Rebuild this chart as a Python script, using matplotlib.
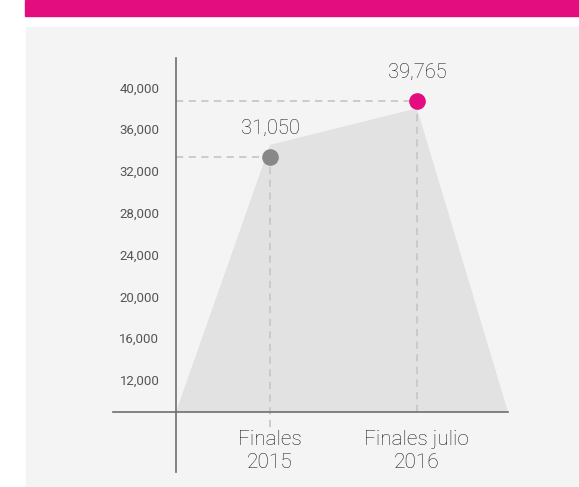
import matplotlib.pyplot as plt
import matplotlib.patches as mpatches

plt.rcParams['font.family'] = ['Roboto', 'Liberation Sans', 'DejaVu Sans']
plt.rcParams['font.weight'] = 'light'

pink = '#e30d7f'
grey_dot = '#888888'
panel_color = '#f4f4f4'
area_color = '#e2e2e2'
guide_color = '#c8c8c8'
axis_color = '#6e6e6e'
text_color = '#1e1e1e'

# data (chart is drawn "not to scale", positions)
categories = ['Finales\n2015', 'Finales julio\n2016']
cat_x = [1, 2]
dot_values = [33340, 38700]
value_labels = ['31,050', '39,765']
dot_colors = [grey_dot, pink]
guide_bottom = [7500, 8940]

area_x = [0.36, 1, 2, 2.62]
area_y = [8940, 34500, 38000, 8940]
baseline = 8940

yticks = [12000, 16000, 20000, 24000, 28000, 32000, 36000, 40000]
ytick_labels = ['12,000', '16,000', '20,000', '24,000', '28,000', '32,000', '36,000', '40,000']

W, H = 579, 487
fig = plt.figure(figsize=(W / 100, H / 100), dpi=100)

# pink header bar and light grey panel
fig.add_artist(mpatches.Rectangle((25 / W, 1 - 15.5 / H), 1, 15.5 / H,
                                  transform=fig.transFigure, color=pink, zorder=-10))
fig.add_artist(mpatches.Rectangle((26 / W, 0), 1, 1 - 26.7 / H,
                                  transform=fig.transFigure, color=panel_color, zorder=-10))

ax = fig.add_axes([176 / W, 15 / H, (508 - 176) / W, (472 - 58) / H])
ax.patch.set_alpha(0)
ax.set_xlim(area_x[0], area_x[-1])
ax.set_ylim(3196, 42813)

for s in ['top', 'right', 'bottom']:
    ax.spines[s].set_visible(False)
ax.spines['left'].set_color(axis_color)
ax.spines['left'].set_linewidth(1.2)

ax.set_yticks(yticks)
ax.set_yticklabels(ytick_labels, fontweight='normal')
ax.tick_params(axis='y', length=0, pad=12, labelsize=9.5, labelcolor='#555555')
ax.set_xticks([])

# grey area
ax.fill(area_x, area_y, color=area_color, zorder=1, lw=0)

# baseline
ax.plot([-0.068, area_x[-1]], [baseline, baseline], color=axis_color, lw=1.2,
        clip_on=False, zorder=3)

for i in range(len(cat_x)):
    # guides
    ax.plot([area_x[0], cat_x[i]], [dot_values[i], dot_values[i]], color=guide_color,
            lw=1.3, ls=(0, (4, 3)), zorder=2)
    ax.plot([cat_x[i], cat_x[i]], [guide_bottom[i], dot_values[i]], color=guide_color,
            lw=1.3, ls=(0, (4, 3)), zorder=2)
    ax.plot(cat_x[i], dot_values[i], 'o', color=dot_colors[i], markersize=12,
            markeredgewidth=0, zorder=4)
    ax.annotate(value_labels[i], xy=(cat_x[i], dot_values[i]), xytext=(0, 14),
                textcoords='offset points', ha='center', va='bottom',
                fontsize=14.5, color=text_color)
    ax.annotate(categories[i], xy=(cat_x[i], baseline), xytext=(0, -13),
                textcoords='offset points', ha='center', va='top',
                fontsize=15, color=text_color, linespacing=1.25,
                annotation_clip=False)

plt.savefig('out.png', dpi=100)
